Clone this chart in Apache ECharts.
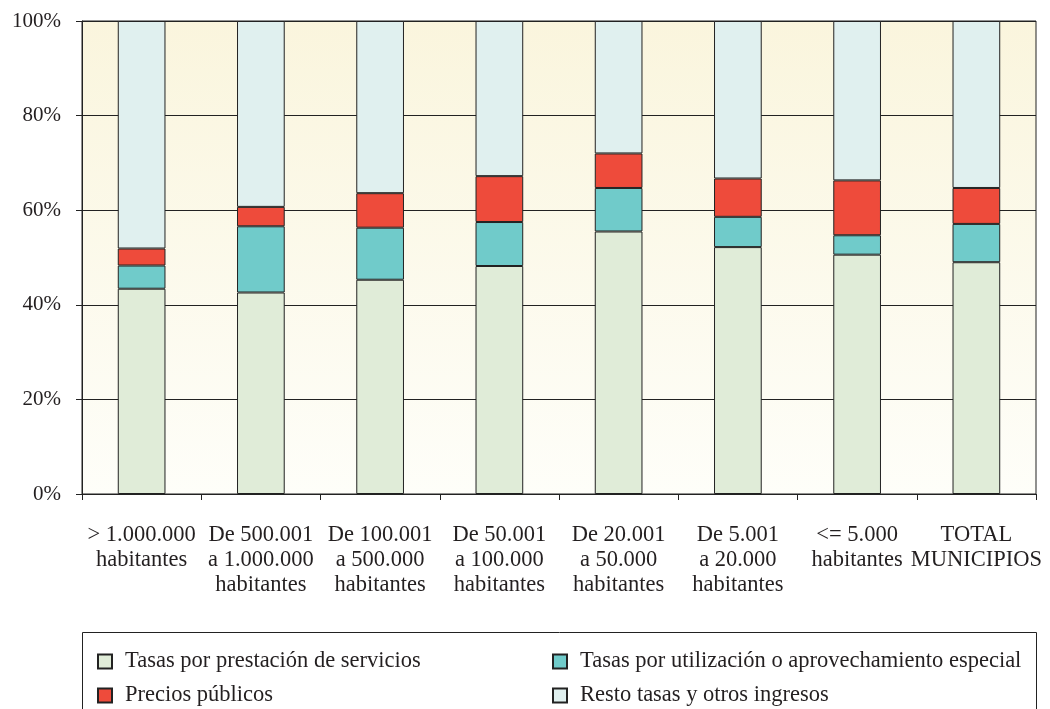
<!DOCTYPE html>
<html>
<head>
<meta charset="utf-8">
<script src="https://cdn.jsdelivr.net/npm/echarts@6/dist/echarts.min.js"></script>
<style>
  html, body { margin: 0; padding: 0; background: #fff; }
  #chart { width: 1050px; height: 709px; }
</style>
</head>
<body>
<div id="chart"></div>
<script>
// tramos de poblacion
const categories = [
  '> 1.000.000\nhabitantes',
  'De 500.001\na 1.000.000\nhabitantes',
  'De 100.001\na 500.000\nhabitantes',
  'De 50.001\na 100.000\nhabitantes',
  'De 20.001\na 50.000\nhabitantes',
  'De 5.001\na 20.000\nhabitantes',
  '<= 5.000\nhabitantes',
  'TOTAL\nMUNICIPIOS'
];

// porcentajes
const prestacion = [43.4, 42.6, 45.3, 48.2, 55.5, 52.2, 50.6, 49.0];
const utilizacion = [4.9, 14.0, 11.0, 9.3, 9.2, 6.4, 4.1, 8.1];
const precios = [3.6, 4.1, 7.3, 9.7, 7.3, 8.1, 11.6, 7.6];
const resto = [48.1, 39.3, 36.4, 32.8, 28.0, 33.3, 33.7, 35.3];

const yTicks = [0, 20, 40, 60, 80, 100];

const names = [
  'Tasas por prestación de servicios',
  'Tasas por utilización o aprovechamiento especial',
  'Precios públicos',
  'Resto tasas y otros ingresos'
];

const font = 'Liberation Serif';
const txt = '#231f20';

const chart = echarts.init(document.getElementById('chart'));

const mk = (name, data, color) => ({
  name: name,
  type: 'bar',
  stack: 'total',
  barWidth: '40%',
  data: data,
  itemStyle: { color: color, borderColor: '#222', borderWidth: 1 }
});

// una leyenda por elemento, en dos columnas
const leg = (name, left, top) => ({
  data: [name],
  left: left, top: top,
  itemWidth: 14, itemHeight: 14,
  icon: 'rect',
  textStyle: { fontFamily: font, fontSize: 22.5, color: txt, padding: [0, 0, 0, 8] }
});

chart.setOption({
  animation: false,
  textStyle: { fontFamily: font, color: txt },
  grid: {
    left: 82, right: 14, top: 21, bottom: 215,
    show: true,
    borderColor: '#222',
    borderWidth: 1,
    backgroundColor: {
      type: 'linear', x: 0, y: 0, x2: 0, y2: 1,
      colorStops: [{ offset: 0, color: '#faf5dd' }, { offset: 1, color: '#fefef9' }]
    }
  },
  graphic: [{
    type: 'rect',
    z: -1,
    shape: { x: 82.5, y: 632.5, width: 954, height: 100 },
    style: { fill: '#fff', stroke: '#222', lineWidth: 1 }
  }],
  legend: [
    leg(names[0], 92, 645),
    leg(names[2], 92, 679),
    leg(names[1], 547, 645),
    leg(names[3], 547, 679)
  ],
  xAxis: {
    type: 'category',
    data: categories,
    boundaryGap: true,
    axisLine: { lineStyle: { color: '#222', width: 1 } },
    axisTick: { show: true, length: 6, inside: false, lineStyle: { color: '#222' } },
    axisLabel: {
      interval: 0, margin: 29,
      fontFamily: font, fontSize: 22.5, lineHeight: 25, color: txt
    }
  },
  yAxis: {
    type: 'value',
    min: yTicks[0], max: yTicks[yTicks.length - 1], interval: 20,
    axisLine: { show: true, lineStyle: { color: '#222', width: 1 } },
    axisTick: { show: true, length: 6, lineStyle: { color: '#222' } },
    splitLine: { show: true, lineStyle: { color: '#222', width: 1 } },
    axisLabel: {
      margin: 21, fontFamily: font, fontSize: 21, color: txt,
      formatter: v => v + '%'
    }
  },
  series: [
    mk(names[0], prestacion, '#e0ecd8'),
    mk(names[1], utilizacion, '#70cbca'),
    mk(names[2], precios, '#ee4b3b'),
    mk(names[3], resto, '#e0f0ef')
  ]
});
</script>
</body>
</html>
